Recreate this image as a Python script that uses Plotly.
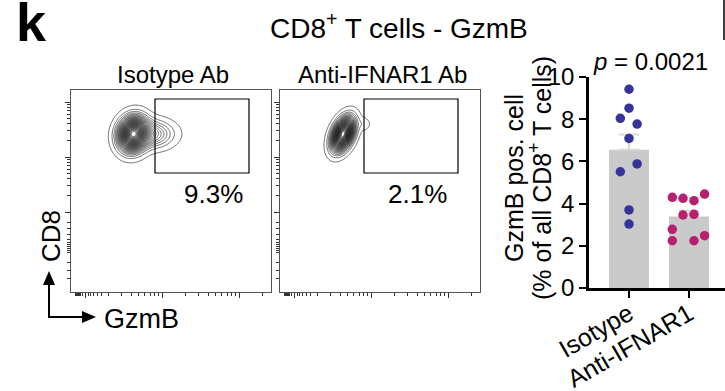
import numpy as np
import plotly.graph_objects as go

W, H = 725, 391
FONT = "Liberation Sans, Arial, Helvetica, sans-serif"

# ---------------- data ----------------
groups = ["Isotype", "Anti-IFNAR1"]
iso_values = [9.42, 8.52, 8.04, 7.77, 7.09, 5.88, 5.51, 3.70, 3.03]
iso_jitter = [0.0, 0.0, -0.145, 0.135, 0.0, 0.135, -0.145, 0.0, 0.0]
anti_values = [4.30, 4.25, 4.14, 4.45, 3.46, 3.49, 2.78, 2.24, 2.24, 2.48]
anti_jitter = [-0.278, -0.10, 0.083, 0.26, -0.10, 0.083, -0.278, -0.278, 0.083, 0.26]
p_text = "0.0021"
y_ticks = [0, 2, 4, 6, 8, 10]

panel_titles = ["Isotype Ab", "Anti-IFNAR1 Ab"]
gate_pct = ["9.3%", "2.1%"]
gate_x = [84, 178]
gate_y = [119, 193]
# flow populations: weight, centre x, centre y, sigma x, sigma y, correlation
iso_pops = [(1.0, 62, 158, 8.3, 9.8, 0.1), (0.22, 80, 158, 13, 8.0, 0.0)]
anti_pops = [(1.0, 63, 158, 6.4, 9.4, 0.4), (0.03, 84, 168, 4, 4, 0.0)]

colors = ["#36349b", "#b5206f"]

# ---------------- helpers ----------------
def px_x(p):
    return p / W

def px_y(p):
    return 1 - p / H

gx = np.arange(0, 201, 0.5)
gy = np.arange(0, 202.5, 0.5)
GX, GY = np.meshgrid(gx, gy)

def density(pops):
    z = np.zeros_like(GX)
    for w, cx, cy, sx, sy, r in pops:
        dx = (GX - cx) / sx
        dy = (GY - cy) / sy
        q = (dx * dx - 2 * r * dx * dy + dy * dy) / (1 - r * r)
        z += w * np.exp(-0.5 * q)
    return z / z.max()

fig = go.Figure()

# flow panels
panel_dom = [(71, 271), (280, 480)]
flow_top, flow_bot = 90, 292
x_major = [14, 91, 168]
x_minor = [91 + 77 * np.log10(k) for k in range(2, 10)] + [14 + 77 * np.log10(k) for k in range(2, 10)] \
    + [168 + 77 * np.log10(k) for k in range(2, 4)] + [4, 5, 6, 7, 8, 9, 11, 17, 19, 22, 26, 30]
y_major = [80, 135, 190]
y_minor = [80 + 55 * np.log10(k) for k in range(2, 10)] + [135 + 55 * np.log10(k) for k in range(2, 10)] \
    + [40, 42, 44, 46, 48, 50, 53, 58, 64, 70, 14, 22, 30]

for i, pops in enumerate([iso_pops, anti_pops]):
    n = "" if i == 0 else str(i + 1)
    fig.add_trace(go.Contour(
        x=gx, y=gy, z=density(pops), xaxis="x" + n, yaxis="y" + n,
        contours=dict(start=0.012, end=0.975, size=0.028, coloring="lines"),
        colorscale=[[0, "#1a1a1a"], [1, "#1a1a1a"]], showscale=False,
        line=dict(width=0.65, smoothing=1), hoverinfo="skip"))
    ax = dict(domain=[px_x(panel_dom[i][0]), px_x(panel_dom[i][1])], range=[0, 200],
              showline=True, mirror=True, linecolor="#555", linewidth=1, automargin=False,
              showgrid=False, zeroline=False, showticklabels=False,
              ticks="outside", tickvals=x_major, ticklen=5, tickcolor="#333", tickwidth=1,
              minor=dict(tickvals=x_minor, ticks="outside", ticklen=3, tickcolor="#333", tickwidth=1),
              anchor="y" + n, fixedrange=True)
    ay = dict(domain=[px_y(flow_bot), px_y(flow_top)], range=[0, 202],
              showline=True, mirror=True, linecolor="#555", linewidth=1, automargin=False,
              showgrid=False, zeroline=False, showticklabels=False,
              ticks="outside", tickvals=y_major, ticklen=5, tickcolor="#333", tickwidth=1,
              minor=dict(tickvals=y_minor, ticks="outside", ticklen=3, tickcolor="#333", tickwidth=1),
              anchor="x" + n, fixedrange=True)
    fig.update_layout(**{"xaxis" + n: ax, "yaxis" + n: ay})
    fig.add_shape(type="rect", xref="x" + n, yref="y" + n, x0=gate_x[0], x1=gate_x[1],
                  y0=gate_y[0], y1=gate_y[1], line=dict(color="black", width=1.2))

# bar chart
means = [float(np.mean(iso_values)), float(np.mean(anti_values))]
sems = [float(np.std(v, ddof=1) / np.sqrt(len(v))) for v in (iso_values, anti_values)]
fig.add_trace(go.Bar(x=[0, 1], y=means, width=0.667, marker=dict(color="#cacaca", line=dict(width=0)),
                     error_y=dict(type="data", array=sems, arrayminus=[0, 0], symmetric=False,
                                  color="#d8d8d0", thickness=2, width=10),
                     xaxis="x3", yaxis="y3", hoverinfo="skip"))
for k, (vals, jit) in enumerate([(iso_values, iso_jitter), (anti_values, anti_jitter)]):
    fig.add_trace(go.Scatter(x=[k + j for j in jit], y=vals, mode="markers", xaxis="x3", yaxis="y3",
                             marker=dict(size=9.5, color=colors[k], line=dict(width=0)),
                             cliponaxis=False, hoverinfo="skip"))

fig.update_layout(
    xaxis3=dict(domain=[px_x(589), 1.0], range=[-0.667, 1.6], anchor="y3", automargin=False,
                showline=True, linecolor="black", linewidth=2.5, showgrid=False, zeroline=False,
                tickvals=[0, 1], ticktext=groups, tickangle=-30, ticks="outside", ticklen=7,
                tickwidth=2, tickcolor="black", ticklabelstandoff=-8,
                tickfont=dict(size=25, family=FONT, color="black"), fixedrange=True),
    yaxis3=dict(domain=[px_y(288), px_y(77)], range=[0, 10], anchor="x3", automargin=False,
                showline=True, linecolor="black", linewidth=2.5, showgrid=False, zeroline=False,
                tickvals=y_ticks, ticks="outside", ticklen=7, tickwidth=2, tickcolor="black",
                tickfont=dict(size=24, family=FONT, color="black"), fixedrange=True),
)

# p-value bracket
fig.add_shape(type="line", xref="x3", yref="y3", x0=0.07, x1=1.07, y0=10.05, y1=10.05,
              line=dict(color="black", width=1.5))

ann = []
def text(x, y, s, size, angle=0, **kw):
    ann.append(dict(x=px_x(x), y=px_y(y), xref="paper", yref="paper", text=s, showarrow=False,
                    textangle=angle, xanchor="center", yanchor="middle",
                    font=dict(size=size, family=FONT, color="black"), **kw))

text(31, 22, "<b>k</b>", 54)
text(399, 26, "CD8<sup>+</sup> T cells - GzmB", 28)
text(173, 74, panel_titles[0], 24)
text(382, 74, panel_titles[1], 24)
text(213, 194, gate_pct[0], 26)
text(417, 194, gate_pct[1], 26)
text(141, 319, "GzmB", 27)
text(51, 236, "CD8", 26, angle=-90)
text(514, 178, "GzmB pos. cell", 25, angle=-90)
text(540, 178, "(% of all CD8<sup>+</sup> T cells)", 25, angle=-90)
text(650, 61, "<i>p</i> = " + p_text, 24)

shapes = [
    dict(type="line", xref="paper", yref="paper", x0=px_x(49), x1=px_x(49), y0=px_y(318), y1=px_y(283),
         line=dict(color="black", width=2)),
    dict(type="line", xref="paper", yref="paper", x0=px_x(48), x1=px_x(84), y0=px_y(317), y1=px_y(317),
         line=dict(color="black", width=2)),
    dict(type="path", xref="paper", yref="paper",
         path=f"M {px_x(43)} {px_y(285)} L {px_x(55)} {px_y(285)} L {px_x(49)} {px_y(271)} Z",
         fillcolor="black", line=dict(width=0)),
    dict(type="path", xref="paper", yref="paper",
         path=f"M {px_x(82)} {px_y(311)} L {px_x(82)} {px_y(323)} L {px_x(96)} {px_y(317)} Z",
         fillcolor="black", line=dict(width=0)),
    dict(type="line", xref="paper", yref="paper", x0=px_x(724), x1=px_x(724), y0=px_y(0), y1=px_y(40),
         line=dict(color="black", width=1.5)),
]
for s in shapes:
    fig.add_shape(**s)

fig.update_layout(width=W, height=H, margin=dict(l=0, r=0, t=0, b=0, autoexpand=False),
                  paper_bgcolor="white", plot_bgcolor="white", showlegend=False, annotations=ann,
                  font=dict(family=FONT, color="black"))

fig.write_html("out.html", config={"displayModeBar": False},
               post_script="document.body.style.margin='0px';document.body.style.padding='0px';")
